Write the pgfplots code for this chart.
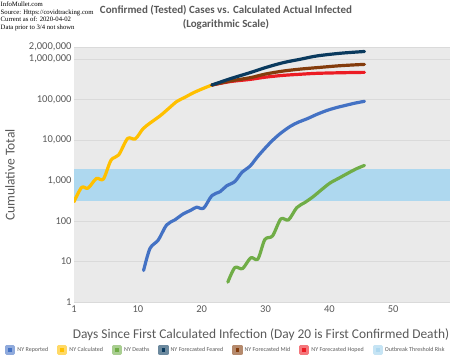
\documentclass[border=0pt]{standalone}
\usepackage{pgfplots}
\pgfplotsset{compat=1.18}
\usepackage{fontspec}
\setmainfont{Carlito}
\newfontfamily\serifA{Liberation Serif}
\definecolor{blueC}{HTML}{4472C4}
\definecolor{yellowC}{HTML}{FFC000}
\definecolor{greenC}{HTML}{70AD47}
\definecolor{navyC}{HTML}{0A3A5E}
\definecolor{brownC}{HTML}{843C0C}
\definecolor{redC}{HTML}{EC1C24}
\definecolor{bandC}{HTML}{AED8EF}
\definecolor{bgC}{HTML}{EAEAEA}
\definecolor{gridC}{HTML}{DADADA}
\definecolor{tickC}{HTML}{595959}
\begin{document}
\begin{tikzpicture}
\path[use as bounding box] (0pt,0pt) rectangle (450pt,-360pt);
\node[anchor=north west, inner sep=0pt, align=left, font=\serifA\fontsize{6.7}{7.4}\selectfont] at (0.5pt,-2pt)
 {InfoMullet.com\\Source: Https://covidtracking.com\\Current as of: 2020-04-02\\Data prior to 3/4 not shown};
\node[align=center, inner sep=0pt, text=tickC, font=\bfseries\fontsize{11}{13.7}\selectfont] at (226pt,-17.5pt)
 {Confirmed (Tested) Cases vs. Calculated Actual Infected\\(Logarithmic Scale)};
\node[rotate=90, text=tickC, font=\fontsize{13.5}{15}\selectfont] at (10pt,-175pt) {Cumulative Total};
\node[text=tickC, font=\fontsize{13.4}{15}\selectfont] at (261pt,-335pt) {Days Since First Calculated Infection (Day 20 is First Confirmed Death)};
\begin{axis}[
  at={(74pt,-302pt)}, anchor=south west,
  scale only axis, width=376pt, height=255pt,
  xmin=0, xmax=58.9,
  ymode=log, ymin=1, ymax=2000000,
  axis line style={draw=none},
  major tick length=0pt, minor tick length=0pt,
  xtick={0,10,20,30,40,50}, xticklabels={1,10,20,30,40,50},
  ytick={1,10,100,1000,10000,100000,1000000,2000000},
  yticklabels={1,10,100,{1,000},{10,000},{100,000},{1,000,000},{2,000,000}},
  ymajorgrids, grid style={draw=gridC, line width=0.7pt},
  axis background/.style={fill=bgC},
  tick label style={font=\fontsize{10.5}{12}\selectfont, text=tickC},
  yticklabel style={xshift=1pt},
  legend columns=7,
  legend style={at={(0.404,-0.188)}, anchor=center, draw=none, fill=none,
    font=\fontsize{6}{7}\selectfont, text=tickC,
    /tikz/every even column/.append style={column sep=7pt}},
]
\addplot[forget plot, fill=bandC, draw=none, sharp plot] coordinates {(0,316) (58.9,316) (58.9,1930) (0,1930)} -- cycle;
\pgfplotsset{every axis plot/.append style={line width=3.2pt, line cap=round, line join=round, smooth, tension=0.5}}
% NY Reported
\addplot[forget plot, draw=blueC] coordinates {
(10.9,6) (11.9,21) (13.2,34) (14.5,80) (15.8,107) (17.1,150) (18.3,185) (19.2,220) (20.3,208) (21.6,426) (22.9,535) (23.9,740) (25.2,950) (26.3,1590) (27.6,2300) (28.7,3800) (29.8,6000) (31,9500) (32.3,14500) (33.9,22000) (35.2,28000) (36.5,33600) (38,43000) (39.6,54000) (41,63000) (42.5,72000) (44,82000) (45.5,91000)};
% NY Calculated
\addplot[forget plot, draw=yellowC] coordinates {
(0,300) (1.2,680) (2.2,650) (3.5,1130) (4.6,1090) (5.8,3200) (7.0,4300) (8.4,11000) (9.6,10700) (10.8,19000) (12.0,27000) (13.5,40000) (14.8,60000) (16.1,90000) (17.4,115000) (18.7,148000) (20.1,185000) (21.6,230000)};
% NY Deaths
\addplot[forget plot, draw=greenC] coordinates {
(24.1,3.1) (25.2,7.1) (26.4,6.7) (27.7,12.4) (28.8,11.5) (29.9,35) (31.1,43) (32.4,113) (33.6,107) (34.9,215) (36.2,290) (37.5,405) (38.8,600) (40.1,870) (41.5,1150) (43,1550) (44.2,1950) (45.5,2370)};
% Hoped
\addplot[forget plot, draw=redC] coordinates {
(21.6,230000) (24.5,280000) (27.6,317000) (30,360000) (32.8,399000) (35.5,425000) (38,447000) (41.7,462000) (45.5,473000)};
% Mid
\addplot[forget plot, draw=brownC] coordinates {
(21.6,230000) (24.5,290000) (27.6,349000) (30,430000) (32.8,510000) (35.5,570000) (38,617000) (41.7,690000) (45.5,745000)};
% Feared
\addplot[forget plot, draw=navyC] coordinates {
(21.6,230000) (24.5,330000) (27.6,466000) (30,620000) (32.8,823000) (35.5,1000000) (38,1200000) (41.7,1400000) (45.5,1550000)};
\addlegendimage{legend image code/.code={\draw[draw=blueC!60!white, fill=blueC] (0pt,-3.5pt) rectangle (7pt,3.5pt);}}
\addlegendentry{NY Reported}
\addlegendimage{legend image code/.code={\draw[draw=yellowC!60!white, fill=yellowC] (0pt,-3.5pt) rectangle (7pt,3.5pt);}}
\addlegendentry{NY Calculated}
\addlegendimage{legend image code/.code={\draw[draw=greenC!60!white, fill=greenC] (0pt,-3.5pt) rectangle (7pt,3.5pt);}}
\addlegendentry{NY Deaths}
\addlegendimage{legend image code/.code={\draw[draw=navyC!60!white, fill=navyC] (0pt,-3.5pt) rectangle (7pt,3.5pt);}}
\addlegendentry{NY Forecasted Feared}
\addlegendimage{legend image code/.code={\draw[draw=brownC!60!white, fill=brownC] (0pt,-3.5pt) rectangle (7pt,3.5pt);}}
\addlegendentry{NY Forecasted Mid}
\addlegendimage{legend image code/.code={\draw[draw=redC!60!white, fill=redC] (0pt,-3.5pt) rectangle (7pt,3.5pt);}}
\addlegendentry{NY Forecasted Hoped}
\addlegendimage{legend image code/.code={\draw[draw=bandC!70!white, fill=bandC] (0pt,-3.5pt) rectangle (7pt,3.5pt);}}
\addlegendentry{Outbreak Threshold Risk}
\end{axis}
\end{tikzpicture}
\end{document}
